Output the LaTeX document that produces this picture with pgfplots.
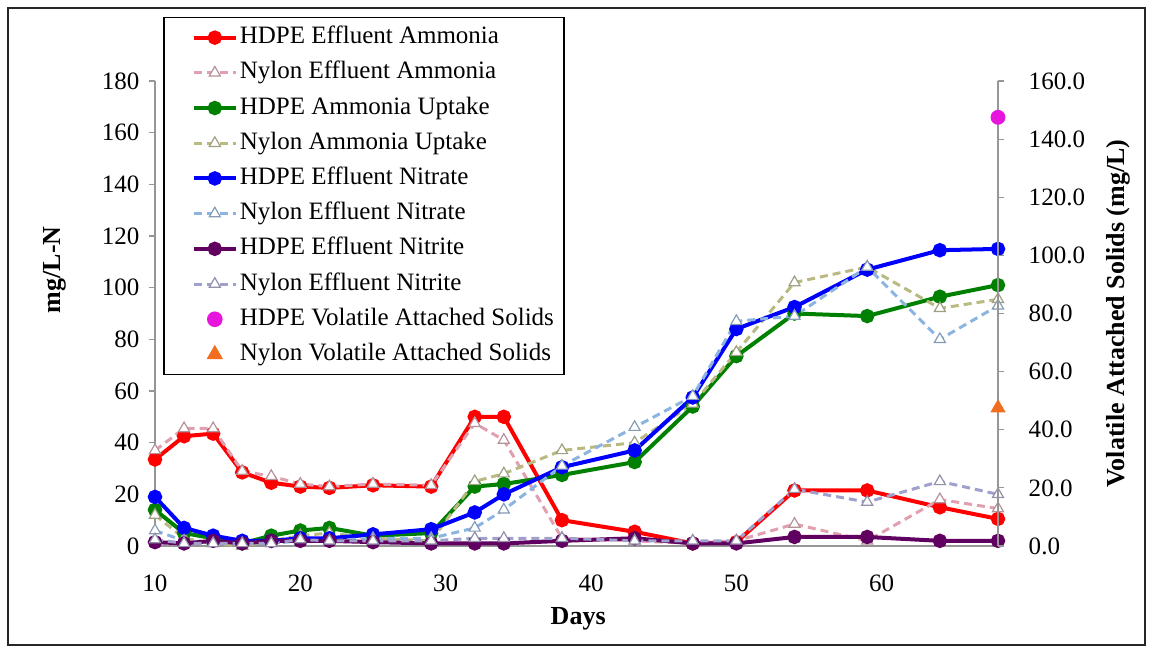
\documentclass[border=0pt]{standalone}
\usepackage{fontspec}
\setmainfont{Liberation Serif}
\usepackage{pgfplots}
\pgfplotsset{compat=1.18}
\definecolor{cRed}{RGB}{255,0,0}
\definecolor{cPink}{RGB}{225,160,175}
\definecolor{cGreen}{RGB}{0,128,0}
\definecolor{cTan}{RGB}{185,185,130}
\definecolor{cBlue}{RGB}{0,0,255}
\definecolor{cLBlue}{RGB}{140,180,225}
\definecolor{cPurple}{RGB}{96,0,96}
\definecolor{cLav}{RGB}{160,160,205}
\definecolor{cMag}{RGB}{230,20,220}
\definecolor{cOrange}{RGB}{240,110,30}
\definecolor{cAxis}{RGB}{150,150,150}
\pgfplotsset{
  hdpe/.style={line width=2pt, mark=*, mark size=2.6pt, mark options={solid}},
  nylon/.style={line width=1.5pt, dash pattern=on 4pt off 2.5pt, mark=triangle*, mark size=3.2pt,
     mark options={solid, fill=white, draw=#1!55!gray, line width=0.6pt}, color=#1},
}
\begin{document}
\fontsize{12.5}{15}\selectfont
\begin{tikzpicture}
\useasboundingbox (-77.5pt,-50.5pt) rectangle (497pt,273pt);
\draw[line width=1.3pt, black!85] (-73.5pt,-49.5pt) rectangle (495pt,269pt);
\begin{axis}[
  scale only axis, width=421.5pt, height=232.5pt,
  xmin=10, xmax=68, ymin=0, ymax=180,
  axis x line*=bottom, axis y line*=left,
  axis line style={cAxis, line width=0.8pt},
  xtick={10,20,30,40,50,60}, ytick={0,20,...,180},
  tick align=outside, major tick length=3pt,
  x tick style={draw=none},
  y tick style={cAxis, line width=0.6pt},
  /pgf/number format/assume math mode=true,
  tick label style={font=\fontsize{12.5}{15}\selectfont},
  xticklabel style={yshift=-7pt},
  yticklabel style={xshift=-0.5pt},
  xlabel={\textbf{Days}},
  xlabel style={at={(axis description cs:0.502,0)}, anchor=center, yshift=-36.5pt, font=\fontsize{13}{15}\selectfont},
  ylabel={\textbf{mg/L-N}},
  ylabel style={at={(axis description cs:0,0.594)}, anchor=center, yshift=50pt, font=\fontsize{13}{15}\selectfont},
  clip=false,
  legend cell align=left,
  legend style={at={(0.0095,1.138)}, anchor=north west, draw=black, line width=0.8pt,
     inner xsep=4pt, inner ysep=3pt, row sep=3.6pt,
     font=\fontsize{12.5}{15}\selectfont,
     nodes={inner sep=1pt, text height=9pt, text depth=3pt}},
  legend image code/.code={
    \path[draw=none, fill=none] (-11pt,0pt) -- (21pt,0pt);
    \draw[mark repeat=2,mark phase=2,#1] plot coordinates {(0pt,0pt) (10.5pt,0pt) (21pt,0pt)};
  },
]
% HDPE Effluent Ammonia
\addplot[hdpe, color=cRed] coordinates {
(10,33.5) (12,42.5) (14,43.5) (16,28.5) (18,24.5) (20,23) (22,22.5) (25,23.5) (29,23)
(32,50) (34,50) (38,10) (43,5.5) (47,1) (50,1.5) (54,21.5) (59,21.5) (64,15) (68,10.5)};
\addlegendentry{HDPE Effluent Ammonia}
% Nylon Effluent Ammonia
\addplot[nylon=cPink] coordinates {
(10,37) (12,45.5) (14,45.5) (16,29) (18,27) (20,24) (22,23) (25,24) (29,23.5)
(32,47.5) (34,41) (38,3) (43,2) (47,1) (50,2) (54,8.5) (59,2) (64,18) (68,14.5)};
\addlegendentry{Nylon Effluent Ammonia}
% HDPE Ammonia Uptake
\addplot[hdpe, color=cGreen] coordinates {
(10,14) (12,5) (14,3) (16,1) (18,4) (20,6) (22,7) (25,4) (29,5)
(32,23) (34,24) (38,27.5) (43,32.5) (47,54) (50,73.5) (54,90) (59,89) (64,96.5) (68,101)};
\addlegendentry{HDPE Ammonia Uptake}
% Nylon Ammonia Uptake
\addplot[nylon=cTan] coordinates {
(10,12) (12,3) (14,1) (16,0) (18,2) (20,4) (22,5) (25,3) (29,2)
(32,25) (34,28) (38,37) (43,40) (47,55) (50,75) (54,102) (59,108) (64,92) (68,95.5)};
\addlegendentry{Nylon Ammonia Uptake}
% HDPE Effluent Nitrate
\addplot[hdpe, color=cBlue] coordinates {
(10,19) (12,7) (14,4) (16,2) (18,2) (20,3) (22,3) (25,4.5) (29,6.5)
(32,13) (34,20) (38,30.5) (43,37) (47,57.5) (50,84) (54,92.5) (59,107) (64,114.5) (68,115)};
\addlegendentry{HDPE Effluent Nitrate}
% Nylon Effluent Nitrate
\addplot[nylon=cLBlue] coordinates {
(10,6) (12,2) (14,1) (16,1) (18,1) (20,2) (22,2) (25,3) (29,3)
(32,7) (34,14) (38,31) (43,46) (47,58) (50,87) (54,89) (59,108) (64,80) (68,93)};
\addlegendentry{Nylon Effluent Nitrate}
% HDPE Effluent Nitrite
\addplot[hdpe, color=cPurple] coordinates {
(10,1.5) (12,1) (14,2) (16,1) (18,2) (20,2) (22,2) (25,1.5) (29,1)
(32,1) (34,1) (38,2) (43,3) (47,1) (50,1) (54,3.5) (59,3.5) (64,2) (68,2)};
\addlegendentry{HDPE Effluent Nitrite}
% Nylon Effluent Nitrite
\addplot[nylon=cLav] coordinates {
(10,2.5) (12,1) (14,1) (16,1) (18,1) (20,2.5) (22,2) (25,2) (29,2)
(32,3) (34,3) (38,3) (43,2) (47,2) (50,2) (54,22) (59,17) (64,25) (68,20)};
\addlegendentry{Nylon Effluent Nitrite}
\addlegendimage{only marks, mark=*, mark size=3.5pt, color=cMag}
\addlegendentry{HDPE Volatile Attached Solids}
\addlegendimage{only marks, mark=triangle*, mark size=4pt, color=cOrange}
\addlegendentry{Nylon Volatile Attached Solids}
\end{axis}
\begin{axis}[
  scale only axis, width=421.5pt, height=232.5pt,
  xmin=10, xmax=68, ymin=0, ymax=160,
  axis x line=none, axis y line*=right,
  axis line style={cAxis, line width=0.8pt},
  ytick={0,20,...,160},
  tick align=outside, major tick length=3pt,
  y tick style={cAxis, line width=0.6pt},
  /pgf/number format/assume math mode=true,
  yticklabel style={/pgf/number format/.cd, fixed, fixed zerofill, precision=1, /tikz/.cd, xshift=8pt},
  tick label style={font=\fontsize{12.5}{15}\selectfont},
  ylabel={\textbf{Volatile Attached Solids (mg/L)}},
  ylabel style={at={(axis description cs:1,0.5)}, anchor=center, yshift=-60pt, font=\fontsize{13}{15}\selectfont},
  clip=false,
]
\addplot[only marks, mark=*, mark size=3.5pt, color=cMag] coordinates {(68,147.5)};
\addplot[only marks, mark=triangle*, mark size=4pt, color=cOrange] coordinates {(68,47.5)};
\end{axis}
\end{tikzpicture}
\end{document}
